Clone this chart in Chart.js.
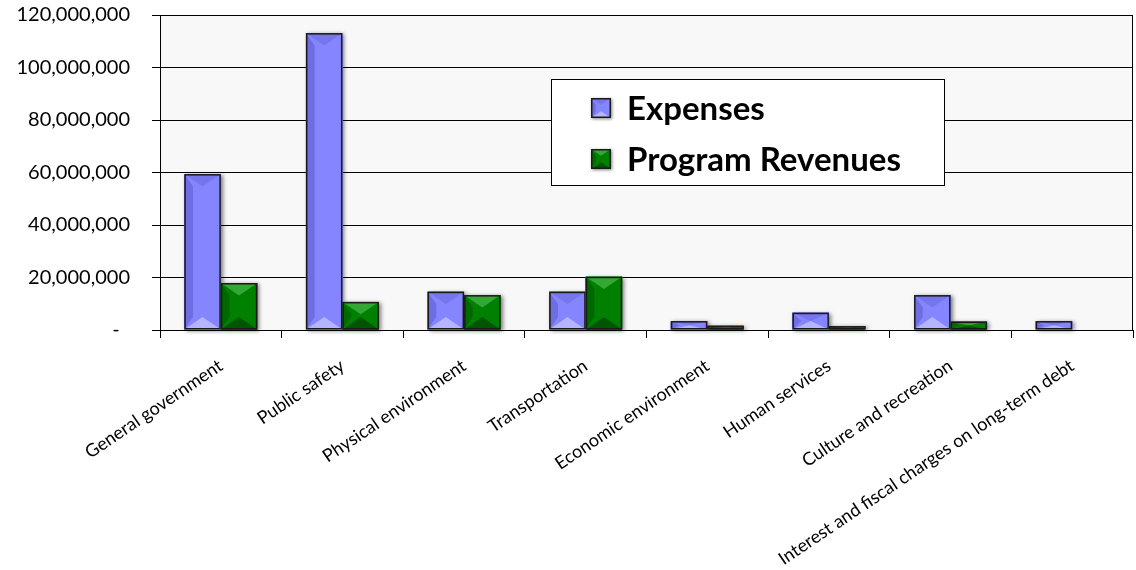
<!DOCTYPE html>
<html>
<head>
<meta charset="utf-8">
<script src="https://cdn.jsdelivr.net/npm/chart.js@4"></script>
<style>
  body { margin: 0; background: #fff; }
  #wrap { width: 1136px; height: 570px; }
</style>
</head>
<body>
<div id="wrap"><canvas id="c"></canvas></div>
<script>
const categories = [
  "General government",
  "Public safety",
  "Physical environment",
  "Transportation",
  "Economic environment",
  "Human services",
  "Culture and recreation",
  "Interest and fiscal charges on long-term debt",
];
const expenses = [59400000, 113100000, 14600000, 14600000, 3400000, 6600000, 13300000, 3400000];
const programRevenues = [17900000, 10700000, 13300000, 20300000, 1600000, 1500000, 3200000, 0];
const yTicks = [0, 20000000, 40000000, 60000000, 80000000, 100000000, 120000000];

// face colours for the bevelled bars: [left, right/center, top, bottom]
const faces = [
  ["#6e6ee2", "#8585ff", "#7676ec", "#b4b4ff"],
  ["#006800", "#008000", "#34a834", "#005600"],
];

// plot background + right border
const plotBg = {
  id: "plotBg",
  beforeDraw(chart) {
    const { ctx, chartArea: a } = chart;
    ctx.save();
    ctx.fillStyle = "#f8f8f8";
    ctx.fillRect(a.left, a.top, a.right - a.left, a.bottom - a.top);
    ctx.restore();
  },
  afterDraw(chart) {
    const { ctx, chartArea: a } = chart;
    ctx.save();
    ctx.strokeStyle = "#000";
    ctx.lineWidth = 1;
    ctx.beginPath();
    ctx.moveTo(Math.round(a.right) - 0.5, a.top);
    ctx.lineTo(Math.round(a.right) - 0.5, a.bottom);
    ctx.stroke();
    ctx.restore();
  },
};

function barBox(el) {
  const p = el.getProps(["x", "y", "base", "width"], true);
  return { l: p.x - p.width / 2, r: p.x + p.width / 2, t: Math.min(p.y, p.base), b: Math.max(p.y, p.base) };
}

function drawBevel(ctx, box, f) {
  const w = box.r - box.l, h = box.b - box.t;
  if (h < 0.5) return;
  const d = Math.min(w * 0.34, h / 2);
  const cx = (box.l + box.r) / 2;
  const poly = (pts, col) => {
    ctx.fillStyle = col;
    ctx.beginPath();
    pts.forEach((q, i) => (i ? ctx.lineTo(q[0], q[1]) : ctx.moveTo(q[0], q[1])));
    ctx.closePath();
    ctx.fill();
  };
  poly([[box.l, box.t], [box.r, box.t], [box.r, box.b], [box.l, box.b]], f[1]);
  poly([[box.l, box.t], [box.l + w * 0.24, box.t + d], [box.l + w * 0.24, box.b - d], [box.l, box.b]], f[0]);
  poly([[box.l, box.t], [box.r, box.t], [cx, box.t + d]], f[2]);
  poly([[box.l, box.b], [box.r, box.b], [cx, box.b - d]], f[3]);
}

const bevelBars = {
  id: "bevelBars",
  beforeDatasetsDraw(chart) {
    const ctx = chart.ctx;
    ctx.save();
    ctx.shadowColor = "rgba(0,0,0,0.5)";
    ctx.shadowBlur = 4;
    ctx.shadowOffsetX = 2;
    ctx.shadowOffsetY = 1;
    ctx.fillStyle = "#888";
    chart.data.datasets.forEach((ds, i) => {
      chart.getDatasetMeta(i).data.forEach((el) => {
        const b = barBox(el);
        if (b.b - b.t < 0.5) return;
        ctx.fillRect(b.l, b.t, b.r - b.l, b.b - b.t);
      });
    });
    ctx.restore();
  },
  afterDatasetsDraw(chart) {
    const ctx = chart.ctx;
    ctx.save();
    chart.data.datasets.forEach((ds, i) => {
      chart.getDatasetMeta(i).data.forEach((el) => {
        const b = barBox(el);
        if (b.b - b.t < 0.5) return;
        drawBevel(ctx, b, faces[i]);
        ctx.strokeStyle = "#1a1a1a";
        ctx.lineWidth = 1.5;
        ctx.strokeRect(b.l + 0.75, b.t + 0.75, b.r - b.l - 1.5, b.b - b.t - 1.5);
      });
    });
    ctx.restore();
  },
};

// legend box inside the plot
const boxLegend = {
  id: "boxLegend",
  afterDraw(chart) {
    const { ctx, chartArea: a } = chart;
    const x = a.left + 391, y = 79, w = 393, h = 106;
    ctx.save();
    ctx.fillStyle = "#fff";
    ctx.fillRect(x, y, w, h);
    ctx.strokeStyle = "#000";
    ctx.lineWidth = 1;
    ctx.strokeRect(x + 0.5, y + 0.5, w, h);
    ctx.font = "bold 33px Lato";
    ctx.textBaseline = "middle";
    ctx.fillStyle = "#000";
    chart.data.datasets.forEach((ds, i) => {
      const cy = y + 29 + i * 51;
      const sq = { l: x + 40, r: x + 60, t: cy - 10, b: cy + 10 };
      ctx.save();
      ctx.shadowColor = "rgba(0,0,0,0.5)";
      ctx.shadowBlur = 3;
      ctx.shadowOffsetX = 1;
      ctx.shadowOffsetY = 1;
      ctx.fillStyle = "#888";
      ctx.fillRect(sq.l, sq.t, sq.r - sq.l, sq.b - sq.t);
      ctx.restore();
      drawBevel(ctx, sq, faces[i]);
      ctx.strokeStyle = "#1a1a1a";
      ctx.lineWidth = 1.5;
      ctx.strokeRect(sq.l + 0.75, sq.t + 0.75, sq.r - sq.l - 1.5, sq.b - sq.t - 1.5);
      ctx.fillStyle = "#000";
      ctx.fillText(ds.label, x + 76, cy + 1);
    });
    ctx.restore();
  },
};

new Chart(document.getElementById("c"), {
  type: "bar",
  data: {
    labels: categories,
    datasets: [
      { label: "Expenses", data: expenses, backgroundColor: "#8585ff", borderWidth: 0 },
      { label: "Program Revenues", data: programRevenues, backgroundColor: "#008000", borderWidth: 0 },
    ],
  },
  options: {
    responsive: true,
    maintainAspectRatio: false,
    animation: false,
    layout: { padding: { top: 15, right: 3, left: 0, bottom: 0 } },
    datasets: { bar: { categoryPercentage: 0.6, barPercentage: 1.0 } },
    plugins: { legend: { display: false }, tooltip: { enabled: false } },
    scales: {
      x: {
        grid: { display: true, drawOnChartArea: false, offset: true, color: "#000", tickLength: 8 },
        border: { display: true, color: "#000", width: 1 },
        ticks: {
          color: "#000",
          font: { family: "Lato", size: 18 },
          minRotation: 34,
          maxRotation: 34,
          autoSkip: false,
          padding: 17,
        },
        afterFit(scale) {
          scale.height = 240;
          scale.paddingLeft = 0;
          scale.paddingRight = 0;
        },
      },
      y: {
        min: 0,
        max: 120000000,
        afterBuildTicks(scale) {
          scale.ticks = yTicks.map((v) => ({ value: v }));
        },
        grid: { color: "#000", tickLength: 8 },
        border: { display: true, color: "#000", width: 1 },
        ticks: {
          color: "#000",
          font: { family: "Lato", size: 20 },
          padding: 22,
          callback: (v) => (v === 0 ? "-  " : v.toLocaleString("en-US")),
        },
        afterFit(scale) {
          scale.width = 160;
          scale.paddingTop = 0;
          scale.paddingBottom = 0;
        },
      },
    },
  },
  plugins: [plotBg, bevelBars, boxLegend],
});
</script>
</body>
</html>
